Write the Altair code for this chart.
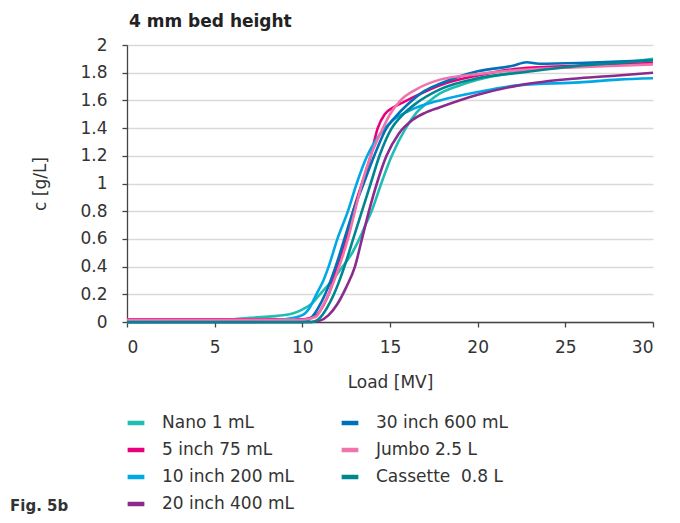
import altair as alt
import pandas as pd

FONT = "DejaVu Sans"
TXT = "#333333"

series_names = ["Nano 1 mL", "5 inch 75 mL", "10 inch 200 mL", "20 inch 400 mL",
                "30 inch 600 mL", "Jumbo 2.5 L", "Cassette\u00a0 0.8 L"]
series_colors = ["#1FBDB4", "#E6007E", "#00A8E6", "#8B2B8E", "#0070B8", "#F074AB", "#00868F"]

nano_x = [0, 5, 7, 9, 10, 10.6, 11.0, 11.7, 12.3, 12.85, 13.25, 13.6, 13.95, 14.5, 15.1, 15.9, 16.5, 17.2, 17.85, 19, 20, 22, 24, 25.8, 28, 30]
nano_y = [0, 0.01, 0.03, 0.05, 0.09, 0.14, 0.2, 0.3, 0.4, 0.5, 0.6, 0.7, 0.8, 1.0, 1.2, 1.4, 1.51, 1.59, 1.65, 1.71, 1.75, 1.8, 1.83, 1.85, 1.87, 1.9]

in5_x = [0, 10, 10.8, 11.2, 11.5, 12.0, 12.5, 12.9, 13.4, 13.9, 14.3, 14.7, 15.2, 15.8, 16.6, 17.85, 20, 22.4, 25.8, 28, 30]
in5_y = [0.02, 0.02, 0.05, 0.12, 0.2, 0.4, 0.6, 0.8, 1.0, 1.2, 1.4, 1.5, 1.55, 1.59, 1.64, 1.71, 1.78, 1.83, 1.85, 1.86, 1.87]

in10_x = [0, 7, 9, 10, 10.4, 10.8, 11.2, 11.5, 12.0, 12.6, 13.1, 13.7, 14.4, 15.1, 16.0, 17.0, 17.85, 20, 22.4, 25.8, 28, 30]
in10_y = [0, 0, 0.02, 0.05, 0.1, 0.2, 0.3, 0.4, 0.6, 0.8, 1.0, 1.2, 1.35, 1.45, 1.52, 1.57, 1.6, 1.66, 1.71, 1.73, 1.75, 1.76]

in20_x = [0, 10.5, 11.0, 11.5, 12.0, 12.5, 13.0, 13.4, 13.8, 14.25, 14.8, 15.5, 16.3, 17.0, 17.85, 20, 22.4, 25.8, 28, 30]
in20_y = [0, 0, 0.01, 0.05, 0.13, 0.25, 0.4, 0.6, 0.8, 1.0, 1.2, 1.36, 1.46, 1.51, 1.55, 1.64, 1.71, 1.76, 1.78, 1.8]

in30_x = [0, 10, 10.5, 10.9, 11.3, 11.9, 12.4, 12.9, 13.5, 14.1, 14.8, 15.3, 16.0, 17.0, 17.85, 20, 22.0, 22.8, 23.5, 25.8, 28, 30]
in30_y = [0, 0, 0.03, 0.1, 0.2, 0.4, 0.6, 0.8, 1.0, 1.2, 1.4, 1.48, 1.57, 1.67, 1.72, 1.81, 1.85, 1.875, 1.865, 1.87, 1.88, 1.89]

jumbo_x = [0, 10, 10.8, 11.1, 11.5, 12.1, 12.6, 13.0, 13.4, 13.9, 14.6, 15.0, 15.6, 16.5, 17.85, 20, 22.4, 25.8, 28, 30]
jumbo_y = [0.015, 0.015, 0.04, 0.1, 0.2, 0.4, 0.6, 0.8, 1.0, 1.2, 1.4, 1.5, 1.6, 1.68, 1.75, 1.79, 1.82, 1.84, 1.85, 1.86]

cass_x = [0, 10.5, 11.0, 11.4, 11.8, 12.4, 12.9, 13.4, 13.9, 14.4, 15.1, 15.6, 16.5, 17.85, 20, 22.4, 25.8, 28, 30]
cass_y = [0, 0, 0.03, 0.1, 0.2, 0.4, 0.6, 0.8, 1.0, 1.2, 1.4, 1.48, 1.58, 1.68, 1.76, 1.8, 1.85, 1.87, 1.89]

x_ticks = [0, 5, 10, 15, 20, 25, 30]
y_ticks = [0, 0.2, 0.4, 0.6, 0.8, 1, 1.2, 1.4, 1.6, 1.8, 2]

all_x = [nano_x, in5_x, in10_x, in20_x, in30_x, jumbo_x, cass_x]
all_y = [nano_y, in5_y, in10_y, in20_y, in30_y, jumbo_y, cass_y]

rows = []
for name, xs, ys in zip(series_names, all_x, all_y):
    for i, (a, b) in enumerate(zip(xs, ys)):
        rows.append({"series": name, "load": a, "c": b, "i": i})
df = pd.DataFrame(rows)

lines = alt.Chart(df).mark_line(strokeWidth=2.6, interpolate="monotone").encode(
    x=alt.X("load:Q", scale=alt.Scale(domain=[0, 30], nice=False),
            axis=alt.Axis(values=x_ticks, title="Load [MV]", grid=False,
                          tickSize=5, labelPadding=12, titlePadding=19)),
    y=alt.Y("c:Q", scale=alt.Scale(domain=[0, 2], nice=False),
            axis=alt.Axis(values=y_ticks, format="~g", title="c [g/L]",
                          tickSize=5, labelPadding=15, titlePadding=30, grid=True)),
    color=alt.Color("series:N",
                    scale=alt.Scale(domain=series_names, range=series_colors),
                    legend=alt.Legend(title=None, orient="none", legendX=-2, legendY=367,
                                      columns=2, columnPadding=38, rowPadding=7,
                                      symbolType="stroke", symbolStrokeWidth=4.5,
                                      symbolSize=280, labelOffset=15,
                                      labelFontSize=17, labelFont=FONT, labelColor=TXT,
                                      labelLimit=300)),
    order=alt.Order("i:Q"),
)

fig = alt.Chart(pd.DataFrame({"t": ["Fig. 5b"]})).mark_text(
    align="left", baseline="alphabetic", font=FONT, fontSize=15, fontWeight=600, color=TXT
).encode(text="t:N", x=alt.value(-117), y=alt.value(466))

ttl = alt.Chart(pd.DataFrame({"t": ["4 mm bed height"]})).mark_text(
    align="left", baseline="alphabetic", font=FONT, fontSize=17, fontWeight=600, color="#222222"
).encode(text="t:N", x=alt.value(2), y=alt.value(-18))

chart = alt.layer(lines, fig, ttl).properties(
    width=526, height=277,
    autosize=alt.AutoSizeParams(type="none"),
    padding={"left": 119, "top": 37, "right": 19, "bottom": 193},
).configure_view(stroke=None).configure_axis(
    labelFont=FONT, titleFont=FONT, labelFontSize=17, titleFontSize=17,
    labelColor=TXT, titleColor=TXT, titleFontWeight="normal",
    domainColor="#444444", tickColor="#444444", domainWidth=1.3, tickWidth=1.3,
    gridColor="#D9D9D9", gridWidth=1.5,
)

chart.save("out.html", embed_options={"renderer": "svg", "actions": False})
